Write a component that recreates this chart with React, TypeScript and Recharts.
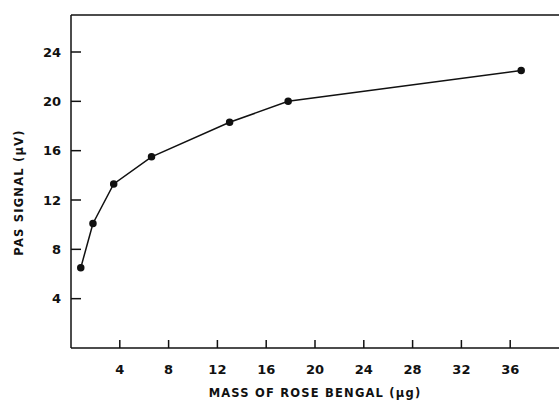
import React from 'react';
import { LineChart, Line, XAxis, YAxis, ReferenceLine } from 'recharts';

const massUg = [0.8, 1.8, 3.5, 6.6, 13, 17.8, 36.9];
const pasSignal = [6.5, 10.1, 13.3, 15.5, 18.3, 20.0, 22.5];
const xTicks = [4, 8, 12, 16, 20, 24, 28, 32, 36];
const yTicks = [4, 8, 12, 16, 20, 24];

const data = massUg.map((m, i) => ({ mass: m, signal: pasSignal[i] }));

const tickStyle = { fontFamily: 'DejaVu Sans', fontSize: 13, fontWeight: 'bold', fill: '#111' };
const titleStyle = { fontFamily: 'DejaVu Sans', fontSize: 11.5, fontWeight: 'bold', fill: '#111', letterSpacing: 1.2 };

const App = () => {
  return (
    <div style={{ position: 'absolute', top: 0, left: 0, width: 559, height: 403, background: '#fff', overflow: 'hidden' }}>
      <LineChart width={559} height={403} data={data} margin={{ top: 15, right: 0, bottom: 0, left: 0 }}>
        <XAxis
          dataKey="mass"
          type="number"
          domain={[0, 40]}
          ticks={xTicks}
          height={55}
          stroke="#111"
          strokeWidth={1.5}
          tickSize={-8}
          tickMargin={25}
          tick={tickStyle}
          label={{ value: 'MASS OF ROSE BENGAL (\u03bcg)', position: 'insideBottom', offset: 6, style: titleStyle }}
        />
        <YAxis
          type="number"
          domain={[0, 27]}
          ticks={yTicks}
          width={71}
          stroke="#111"
          strokeWidth={1.5}
          tickSize={-10}
          tickMargin={20}
          tick={tickStyle}
          label={{ value: 'PAS SIGNAL (\u03bcV)', angle: -90, position: 'center', dx: -17, dy: 11, style: titleStyle }}
        />
        <ReferenceLine y={27} stroke="#111" strokeWidth={1.5} />
        <Line
          dataKey="signal"
          type="linear"
          stroke="#111"
          strokeWidth={1.5}
          dot={{ r: 3, fill: '#111', stroke: '#111' }}
          isAnimationActive={false}
        />
      </LineChart>
    </div>
  );
};

export default App;
